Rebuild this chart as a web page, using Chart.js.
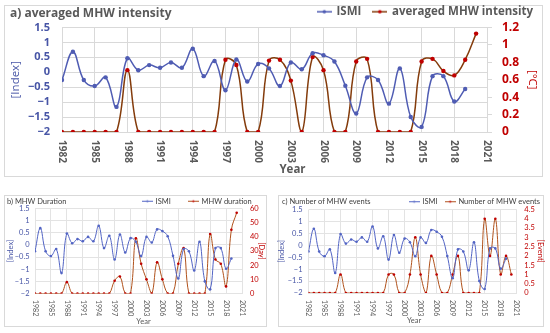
<!DOCTYPE html>
<html>
<head>
<meta charset="utf-8">
<script src="https://cdn.jsdelivr.net/npm/chart.js@4.4.0/dist/chart.umd.min.js"></script>
<style>
  body { margin: 0; width: 550px; height: 333px; position: relative; overflow: hidden; background: #fff; }
  .box { position: absolute; border: 1px solid #d9d9d9; box-sizing: border-box; }
  .wrap { position: absolute; }
  .ttl { position: absolute; white-space: nowrap; }
  .big { font: bold 12px 'Open Sans', sans-serif; color: #595959; line-height: 16px; }
  .small { font: 7.5px Lato, sans-serif; color: #404040; line-height: 10px; }
</style>
</head>
<body>
<div class="box" style="left:4px;top:5px;width:539px;height:172px"></div>
<div class="box" style="left:4px;top:195px;width:263px;height:132px"></div>
<div class="box" style="left:278px;top:195px;width:266px;height:132px"></div>

<div class="wrap" style="left:5px;top:-6px;width:540px;height:183px"><canvas id="chartA"></canvas></div>
<div class="wrap" style="left:4px;top:173px;width:263px;height:154px"><canvas id="chartB"></canvas></div>
<div class="wrap" style="left:276px;top:184px;width:270px;height:143px"><canvas id="chartC"></canvas></div>

<div class="ttl big" style="left:10px;top:5px">a) averaged MHW intensity</div>
<div class="ttl small" style="left:7px;top:197px">b) MHW Duration</div>
<div class="ttl small" style="left:282px;top:197px">c) Number of MHW events</div>

<script>
// data
const years = [1982, 1983, 1984, 1985, 1986, 1987, 1988, 1989, 1990, 1991,
    1992, 1993, 1994, 1995, 1996, 1997, 1998, 1999, 2000, 2001,
    2002, 2003, 2004, 2005, 2006, 2007, 2008, 2009, 2010, 2011,
    2012, 2013, 2014, 2015, 2016, 2017, 2018, 2019, 2020];

const ismi = [-0.26, 0.69, -0.26, -0.46, -0.17, -1.16, 0.47, 0.07, 0.24, 0.15,
    0.33, 0.15, 0.79, -0.13, 0.38, -0.6, 0.43, -0.31, 0.28, 0.13,
    -0.46, 0.33, 0.1, 0.64, 0.57, 0.36, -0.45, -1.38, -0.17, -0.26,
    -1.05, 0.13, -1.5, -1.83, -0.13, -0.13, -0.98, -0.56, null];

const intensity = [0, 0, 0, 0, 0, 0, 0.71, 0, 0, 0,
    0, 0, 0, 0, 0, 0.83, 0.77, 0, 0, 0.82,
    0.83, 0.59, 0, 0.86, 0.71, 0, 0, 0.81, 0.84, 0,
    0, 0, 0, 0.81, 0.84, 0.7, 0.65, 0.83, 1.13];

const duration = [0, 0, 0, 0, 0, 0, 8, 0, 0, 0,
    0, 0, 0, 0, 0, 9, 12, 0, 0, 39,
    21, 10, 0, 22, 10, 0, 0, 21, 32, 0,
    0, 0, 0, 42, 24, 21, 5, 45, 57];

const events = [0, 0, 0, 0, 0, 0, 1, 0, 0, 0,
    0, 0, 0, 0, 0, 1, 1, 0, 0, 1,
    3, 1, 0, 2, 1, 0, 0, 1, 2, 0,
    0, 0, 0, 4, 2, 4, 1, 2, 1];

const BLUE = '#4f5cb3';
const BLUE_TXT = '#4755a6';
const BROWN = '#843c0c';
const RED = '#c00000';
const GRAY = '#595959';

const pts = arr => years.map((yr, i) => ({ x: yr, y: arr[i] }));
const fmt = v => String(+v.toFixed(2)).replace('-', '\u2212');

// little "line with a dot" image used as legend symbol
function marker(lineColor, dotColor, w, r, lw) {
    const c = document.createElement('canvas');
    c.width = w;
    c.height = Math.ceil(r * 2) + 2;
    const g = c.getContext('2d');
    g.strokeStyle = lineColor;
    g.lineWidth = lw;
    g.beginPath();
    g.moveTo(0, c.height / 2);
    g.lineTo(w, c.height / 2);
    g.stroke();
    g.fillStyle = dotColor;
    g.beginPath();
    g.arc(w / 2, c.height / 2, r, 0, Math.PI * 2);
    g.fill();
    return c;
}

// move the legend box after layout (the figure keeps it close to the plot)
const legendShift = {
    id: 'legendShift',
    afterLayout(chart, args, opts) {
        const l = chart.legend;
        if (!l) return;
        l.left += opts.x; l.right += opts.x;
        l.top += opts.y; l.bottom += opts.y;
    }
};

// year labels read top-to-bottom, plus the "Year" title
const xLabels = {
    id: 'xLabels',
    afterDraw(chart, args, opts) {
        const sc = chart.scales.x;
        const ctx = chart.ctx;
        ctx.save();
        ctx.fillStyle = opts.color;
        ctx.font = opts.font;
        ctx.textAlign = 'left';
        ctx.textBaseline = 'middle';
        sc.ticks.forEach(t => {
            ctx.save();
            ctx.translate(sc.getPixelForValue(t.value), sc.top + opts.pad);
            ctx.rotate(Math.PI / 2);
            ctx.fillText(String(t.value), 0, 0);
            ctx.restore();
        });
        ctx.font = opts.titleFont;
        ctx.textAlign = 'center';
        ctx.fillText('Year', (chart.chartArea.left + chart.chartArea.right) / 2 + opts.titleDx, opts.titleY);
        ctx.restore();
    }
};

function makeChart(id, o) {
    const markers = [
        marker(o.blue, o.blue, o.mw, o.mr, o.mlw),
        marker(o.brown, o.red, o.mw, o.mr, o.mlw)
    ];
    return new Chart(document.getElementById(id), {
        type: 'line',
        data: {
            datasets: [{
                label: 'ISMI',
                data: pts(ismi),
                yAxisID: 'y',
                borderColor: o.blue,
                backgroundColor: o.blue,
                pointBackgroundColor: o.blue,
                borderWidth: o.lw,
                pointRadius: o.pr,
                pointBorderWidth: 0,
                tension: 0.4,
            }, {
                label: o.label,
                data: pts(o.values),
                yAxisID: 'y1',
                borderColor: o.brown,
                backgroundColor: o.red,
                pointBackgroundColor: o.red,
                borderWidth: o.lw,
                pointRadius: o.pr,
                pointBorderWidth: 0,
                tension: 0.4,
            }],
        },
        options: {
            responsive: true,
            maintainAspectRatio: false,
            animation: false,
            layout: { padding: 0 },
            plugins: {
                tooltip: { enabled: false },
                legend: {
                    position: 'top',
                    align: 'end',
                    labels: {
                        usePointStyle: true,
                        pointStyleWidth: o.mw - 2,
                        padding: o.legPad,
                        color: o.legColor,
                        font: o.legFont,
                        generateLabels(chart) {
                            const items = Chart.defaults.plugins.legend.labels.generateLabels(chart);
                            items.forEach((it, i) => { it.pointStyle = markers[i]; });
                            return items;
                        },
                    },
                },
                legendShift: o.shift,
                xLabels: o.xl,
            },
            scales: {
                x: {
                    type: 'linear',
                    min: 1982,
                    max: 2021,
                    afterFit: s => { s.height = o.xH; },
                    ticks: { stepSize: 3, autoSkip: false, minRotation: 90, maxRotation: 90, color: 'transparent', callback: v => String(v) },
                    grid: { color: o.grid, drawTicks: false },
                    border: { color: o.grid },
                },
                y: {
                    position: 'left',
                    min: -2,
                    max: 1.5,
                    afterFit: s => { s.width = o.yW; },
                    ticks: { stepSize: 0.5, autoSkip: false, color: o.blueTxt, font: o.yFont, padding: o.yPad, callback: fmt },
                    grid: { color: o.grid, drawTicks: false },
                    border: { display: false },
                    title: { display: true, text: '[Index]', color: o.blueTxt, font: o.tFont, padding: { top: o.yTPad, bottom: 0 } },
                },
                y1: {
                    position: 'right',
                    min: 0,
                    max: o.rMax,
                    afterFit: s => { s.width = o.y1W; },
                    ticks: { stepSize: o.rStep, autoSkip: false, color: o.red, font: o.rFont, padding: o.rPad, callback: fmt },
                    grid: { drawOnChartArea: false, color: o.grid, drawTicks: o.rTicks, tickLength: 5 },
                    border: { display: false },
                    title: { display: true, text: o.rTitle, color: o.red, font: o.tFont, padding: { top: o.rTPad, bottom: 0 } },
                },
            },
        },
        plugins: [legendShift, xLabels],
    });
}

// a) averaged MHW intensity
makeChart('chartA', {
    label: 'averaged MHW intensity', values: intensity,
    blue: BLUE, blueTxt: BLUE_TXT, brown: BROWN, red: RED, grid: '#d9d9d9',
    lw: 1.5, pr: 2.2, mw: 15, mr: 1.8, mlw: 1.5,
    legPad: 12, legColor: GRAY, legFont: { family: "'Open Sans', sans-serif", size: 11.5, weight: 'bold' },
    shift: { x: 0, y: 0 },
    xl: { color: GRAY, font: "bold 10px 'Open Sans', sans-serif", pad: 8, titleFont: "bold 11.5px 'Open Sans', sans-serif", titleY: 176, titleDx: 18 },
    xH: 45, yW: 57, y1W: 58,
    yFont: { family: "'Open Sans', sans-serif", size: 11, weight: 'bold' }, yPad: 12,
    rFont: { family: "'Open Sans', sans-serif", size: 12, weight: 'bold' }, rPad: 10, rTicks: true,
    tFont: { family: "'Open Sans', sans-serif", size: 11.5 }, yTPad: 4, rTPad: 6,
    rMax: 1.2, rStep: 0.2, rTitle: '[\u00b0C]',
});

// b) MHW Duration
makeChart('chartB', {
    label: 'MHW duration', values: duration,
    blue: '#5264c4', blueTxt: BLUE_TXT, brown: '#b0521c', red: RED, grid: '#e3e3e3',
    lw: 1, pr: 1.3, mw: 11, mr: 1.1, mlw: 1,
    legPad: 18, legColor: '#404040', legFont: { family: 'Lato, sans-serif', size: 7.5 },
    shift: { x: 2.7, y: 6.5 },
    xl: { color: GRAY, font: '7px Lato, sans-serif', pad: 6.5, titleFont: '7.5px Lato, sans-serif', titleY: 148.5, titleDx: 5 },
    xH: 33.5, yW: 31, y1W: 25,
    yFont: { family: 'Lato, sans-serif', size: 7.5 }, yPad: 5.5,
    rFont: { family: 'Lato, sans-serif', size: 7.5 }, rPad: 8, rTicks: false,
    tFont: { family: 'Lato, sans-serif', size: 7.5 }, yTPad: 2, rTPad: 1,
    rMax: 60, rStep: 10, rTitle: '[Day]',
});

// c) Number of MHW events
makeChart('chartC', {
    label: 'Number of MHW events', values: events,
    blue: '#5264c4', blueTxt: BLUE_TXT, brown: '#b0521c', red: RED, grid: '#e3e3e3',
    lw: 1, pr: 1.3, mw: 11, mr: 1.1, mlw: 1,
    legPad: 8, legColor: '#404040', legFont: { family: 'Lato, sans-serif', size: 7.5 },
    shift: { x: 2, y: 6 },
    xl: { color: GRAY, font: '7px Lato, sans-serif', pad: 7, titleFont: '7.5px Lato, sans-serif', titleY: 137, titleDx: 1.5 },
    xH: 34, yW: 32.5, y1W: 29.3,
    yFont: { family: 'Lato, sans-serif', size: 7.5 }, yPad: 6,
    rFont: { family: 'Lato, sans-serif', size: 7.5 }, rPad: 7.6, rTicks: false,
    tFont: { family: 'Lato, sans-serif', size: 7.5 }, yTPad: 1.5, rTPad: 0.7,
    rMax: 4.5, rStep: 0.5, rTitle: '[Event]',
});
</script>
</body>
</html>
